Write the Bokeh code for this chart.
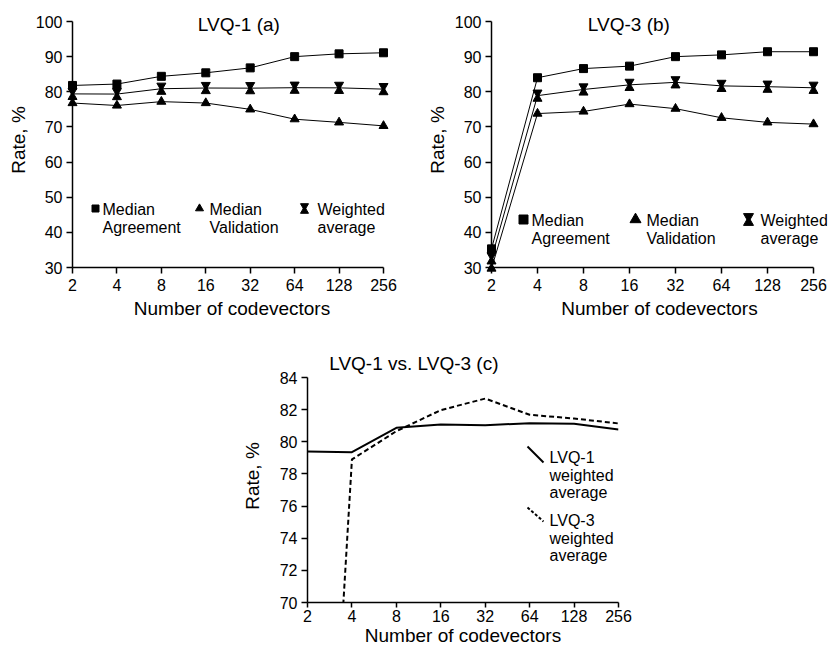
from bokeh.plotting import figure
from bokeh.models import (Range1d, FixedTicker, Label, ColumnDataSource, Spacer,
                          GlobalInlineStyleSheet)
from bokeh.layouts import column, row
from bokeh.transform import dodge
from bokeh.embed import file_html
from bokeh.resources import INLINE

# ---------------- data ----------------
codevectors = [2, 4, 8, 16, 32, 64, 128, 256]
codevector_labels = ["2", "4", "8", "16", "32", "64", "128", "256"]
rate_ticks_ab = [30, 40, 50, 60, 70, 80, 90, 100]
rate_ticks_c = [70, 72, 74, 76, 78, 80, 82, 84]

lvq1_agreement = [81.8, 82.2, 84.4, 85.4, 86.8, 90.0, 90.8, 91.1]
lvq1_validation = [76.8, 76.1, 77.2, 76.8, 75.0, 72.2, 71.3, 70.3]
lvq1_weighted = [79.4, 79.35, 80.87, 81.07, 81.03, 81.16, 81.12, 80.76]

lvq3_agreement = [35.3, 84.0, 86.6, 87.3, 90.0, 90.5, 91.4, 91.4]
lvq3_validation = [29.7, 73.8, 74.4, 76.5, 75.2, 72.6, 71.3, 70.8]
lvq3_weighted = [32.6, 78.9, 80.66, 81.97, 82.69, 81.68, 81.45, 81.14]

legend_names = ["Median\nAgreement", "Median\nValidation", "Weighted\naverage"]

FONT = "Liberation Sans"
INK = "#000000"
LINE_H = 1.03


def px_to_x(px, ax, ax_end):
    """page pixel -> data x on the log2 axis (2 at ax, 256 at ax_end)"""
    return 2 * 2 ** (7 * (px - ax) / (ax_end - ax))


def px_to_y(py, top, bottom, vtop, vbot):
    return vtop - (py - top) / (bottom - top) * (vtop - vbot)


def base_fig(frame_w, frame_h, x_range, y_range, mbl, mbr, mbt, mbb):
    p = figure(frame_width=frame_w, frame_height=frame_h,
               x_axis_type="log", x_range=x_range, y_range=y_range,
               output_backend="svg", toolbar_location=None,
               min_border_left=mbl, min_border_right=mbr,
               min_border_top=mbt, min_border_bottom=mbb)
    p.outline_line_color = None
    p.grid.visible = False
    p.background_fill_color = "white"
    p.border_fill_color = "white"
    for ax in (p.xaxis[0], p.yaxis[0]):
        ax.axis_line_color = INK
        ax.axis_line_width = 1.5
        ax.major_tick_line_color = INK
        ax.major_tick_line_width = 1.5
        ax.major_tick_in = 0
        ax.minor_tick_line_color = None
        ax.major_label_text_font = FONT
        ax.major_label_text_font_size = "16px"
        ax.major_label_text_color = INK
        ax.axis_label_text_font = FONT
        ax.axis_label_text_font_size = "19px"
        ax.axis_label_text_font_style = "normal"
        ax.axis_label_text_color = INK
    p.xaxis.ticker = FixedTicker(ticks=codevectors)
    p.xaxis.major_label_overrides = {v: s for v, s in zip(codevectors, codevector_labels)}
    p.xaxis.bounds = (2, 256)
    p.xaxis.axis_label = "Number of codevectors"
    p.yaxis.axis_label = "Rate, %"
    return p


def top_panel(name, agree, valid, weight, ax, ax_end, extra_right, mbl, mbr, title_px,
              legend_y, legend_px, sizes):
    top, bottom = 21, 267            # page y of 100 and 30
    ftop = 12                        # frame top (room for title)
    ppu = (bottom - top) / 70.0
    ppo = (ax_end - ax) / 7.0
    xr = Range1d(2, 256 * 2 ** (extra_right / ppo))
    yr = Range1d(30, 100 + (top - ftop) / ppu)
    p = base_fig(ax_end - ax + extra_right, bottom - ftop, xr, yr, mbl, mbr, 4, 53)
    p.yaxis.bounds = (30, 100)
    p.yaxis.ticker = FixedTicker(ticks=rate_ticks_ab)
    p.xaxis.major_tick_out = 6
    p.yaxis.major_tick_out = 6
    p.xaxis.major_label_standoff = 5
    p.yaxis.major_label_standoff = 4
    p.xaxis.axis_label_standoff = 4
    p.yaxis.axis_label_standoff = 4

    def X(px):
        return px_to_x(px, ax, ax_end)

    def Y(py):
        return px_to_y(py, top, bottom, 100, 30)

    rends = []
    src = ColumnDataSource(dict(x=codevectors, a=agree, v=valid, w=weight))
    for col in ("a", "v", "w"):
        rends.append(p.line("x", col, source=src, line_color=INK, line_width=1))
    rends.append(p.scatter("x", "a", source=src, marker="square", size=sizes[0],
                           fill_color=INK, line_color=INK))
    rends.append(p.scatter("x", "v", source=src, marker="triangle", size=sizes[1],
                           fill_color=INK, line_color=INK))
    hg = 3.0 / ppu  # hourglass half-offset in data units
    rends.append(p.scatter("x", dodge("w", -hg, range=yr), source=src, marker="triangle",
                           size=sizes[2], fill_color=INK, line_color=INK))
    rends.append(p.scatter("x", dodge("w", hg, range=yr), source=src, marker="inverted_triangle",
                           size=sizes[2], fill_color=INK, line_color=INK))
    for r in rends:
        r.level = "overlay"

    # title
    p.add_layout(Label(x=X(title_px), y=Y(24), text=name, text_font=FONT,
                       text_font_size="19px", text_align="center", text_baseline="middle",
                       text_color=INK))

    # legend
    ly = Y(legend_y)
    lsz = sizes[3:]
    k1 = ColumnDataSource(dict(x=[X(legend_px[0][0])], y=[ly]))
    p.scatter("x", "y", source=k1, marker="square", size=lsz[0], fill_color=INK, line_color=INK)
    k2 = ColumnDataSource(dict(x=[X(legend_px[1][0])], y=[ly]))
    p.scatter("x", "y", source=k2, marker="triangle", size=lsz[1], fill_color=INK, line_color=INK)
    k3 = ColumnDataSource(dict(x=[X(legend_px[2][0])], y=[ly]))
    lhg = lsz[3] / ppu
    p.scatter("x", dodge("y", -lhg, range=yr), source=k3, marker="triangle", size=lsz[2],
              fill_color=INK, line_color=INK)
    p.scatter("x", dodge("y", lhg, range=yr), source=k3, marker="inverted_triangle",
              size=lsz[2], fill_color=INK, line_color=INK)
    for (kx, tx), txt in zip(legend_px, legend_names):
        p.add_layout(Label(x=X(tx), y=Y(legend_y - 7.5), text=txt, text_font=FONT,
                           text_font_size="16px", text_align="left", text_baseline="top",
                           text_color=INK, text_line_height=LINE_H))
    return p


# page x of the y-axis = figure left + min_border_left (body has no left padding)
pa = top_panel("LVQ-1  (a)", lvq1_agreement, lvq1_validation, lvq1_weighted,
               72, 383, 8, 72, 28, 241, 208,
               [(95, 102), (199, 209), (304, 317)],
               sizes=(8, 9, 9, 7, 8, 8, 2.5))
pb = top_panel("LVQ-3  (b)", lvq3_agreement, lvq3_validation, lvq3_weighted,
               491, 813, 14, 72, 1, 631, 219,
               [(523, 531), (635, 646), (748, 760)],
               sizes=(8, 9, 9, 9, 11, 10, 3))

# ---------------- panel (c) ----------------
c_ax, c_end = 307, 618          # page x of 2 and 256
c_top, c_bot = 376, 601         # page y of 84 and 70
c_ftop = 348                    # frame top (room for title)
c_ppu = (c_bot - c_top) / 14.0
pc = base_fig(c_end - c_ax, c_bot - c_ftop, Range1d(2, 256),
              Range1d(70, 84 + (c_top - c_ftop) / c_ppu), 76, 20, 28, 40)
pc.yaxis.bounds = (70, 84)
pc.yaxis.ticker = FixedTicker(ticks=rate_ticks_c)
pc.xaxis.major_tick_out = 5
pc.yaxis.major_tick_out = 6
pc.xaxis.major_label_standoff = 2
pc.yaxis.major_label_standoff = 4
pc.xaxis.axis_label_standoff = 0
pc.yaxis.axis_label_standoff = 14

csrc = ColumnDataSource(dict(x=codevectors, w1=lvq1_weighted, w3=lvq3_weighted))
pc.line("x", "w1", source=csrc, line_color=INK, line_width=2)
pc.line("x", "w3", source=csrc, line_color=INK, line_width=2, line_dash="5 3")


def cx(px):
    return px_to_x(px, c_ax, c_end)


def cy(py):
    return px_to_y(py, c_top, c_bot, 84, 70)


pc.add_layout(Label(x=cx(416), y=cy(362), text="LVQ-1 vs. LVQ-3  (c)", text_font=FONT,
                    text_font_size="19px", text_align="center", text_baseline="middle",
                    text_color=INK))
pc.segment(x0=[cx(527)], y0=[cy(445)], x1=[cx(543)], y1=[cy(461)], line_color=INK, line_width=2)
pc.segment(x0=[cx(527)], y0=[cy(506)], x1=[cx(543)], y1=[cy(520)], line_color=INK, line_width=2,
           line_dash="3 2")
pc.add_layout(Label(x=cx(549), y=cy(455 - 7.5), text="LVQ-1\nweighted\naverage", text_font=FONT,
                    text_font_size="16px", text_align="left", text_baseline="top",
                    text_color=INK, text_line_height=LINE_H))
pc.add_layout(Label(x=cx(549), y=cy(518 - 7.5), text="LVQ-3\nweighted\naverage", text_font=FONT,
                    text_font_size="16px", text_align="left", text_baseline="top",
                    text_color=INK, text_line_height=LINE_H))

page_css = GlobalInlineStyleSheet(css=(
    "html, body { margin: 0 !important; padding: 0 !important; "
    "box-sizing: border-box; overflow: hidden; }"
    " body { padding-top: 8px !important; }"))

layout = column(row(pa, pb), row(Spacer(width=231, height=10), pc),
                stylesheets=[page_css])

open("out.html", "w").write(file_html(layout, INLINE))
